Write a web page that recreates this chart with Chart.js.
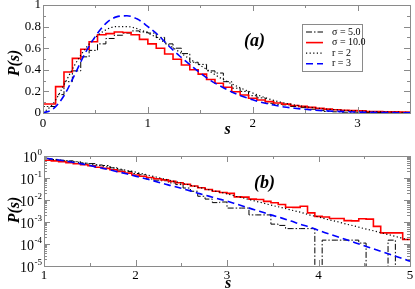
<!DOCTYPE html>
<html>
<head>
<meta charset="utf-8">
<title>P(s)</title>
<script src="https://cdn.jsdelivr.net/npm/chart.js@4.4.1/dist/chart.umd.min.js"></script>
<style>
	html, body { margin: 0; padding: 0; background: #fff; }
	#panels { position: relative; width: 415px; height: 289px; overflow: hidden; }
	#panelA { position: absolute; left: 0; top: 0; }
	#panelB { position: absolute; left: 0; top: 145px; }
</style>
</head>
<body>
<div id="panels">
	<canvas id="panelA" width="415" height="145"></canvas>
	<canvas id="panelB" width="415" height="144"></canvas>
</div>
<script>
// s values of the two smooth curves
var sGrid = [0, 0.1, 0.2, 0.3, 0.4, 0.5, 0.6, 0.7, 0.8, 0.9,
	1, 1.1, 1.2, 1.3, 1.4, 1.5, 1.6, 1.7, 1.8, 1.9,
	2, 2.1, 2.2, 2.3, 2.4, 2.5, 2.6, 2.7, 2.8, 2.9,
	3, 3.1, 3.2, 3.3, 3.4, 3.5, 3.6, 3.7, 3.8, 3.9,
	4, 4.1, 4.2, 4.3, 4.4, 4.5, 4.6, 4.7, 4.8, 4.9, 5];

// r = 2 (dotted)
var pR2 = [0, 0.09, 0.26, 0.44, 0.59, 0.70, 0.77, 0.80, 0.80, 0.78,
	0.74, 0.69, 0.63, 0.565, 0.50, 0.44, 0.38, 0.32, 0.27, 0.225,
	0.185, 0.148, 0.117, 0.093, 0.074, 0.059, 0.047, 0.037, 0.0295, 0.024,
	0.019, 0.0148, 0.0117, 0.0091, 0.0072, 0.0056, 0.0045, 0.0035, 0.0028, 0.0021,
	0.0017, 0.0013, 0.00105, 0.00081, 0.00065, 0.0005, 0.0004, 0.00031, 0.000245, 0.00019,
	0.00015];

// r = 3 (blue dashed)
var pR3 = [0, 0.04, 0.16, 0.35, 0.55, 0.71, 0.83, 0.89, 0.90, 0.87,
	0.80, 0.72, 0.62, 0.53, 0.45, 0.37, 0.30, 0.245, 0.195, 0.155,
	0.122, 0.095, 0.074, 0.056, 0.044, 0.034, 0.026, 0.0195, 0.015, 0.0115,
	0.0089, 0.0066, 0.0049, 0.0036, 0.0027, 0.0020, 0.0015, 0.0011, 0.00079, 0.00059,
	0.00042, 0.0003, 0.00022, 0.00016, 0.000115, 0.000083, 0.00006, 0.000044, 0.000032, 0.000023,
	0.0000166];

// histogram bins (centres), width 0.08
var binWidth = 0.08;
var binCenters = [0, 0.08, 0.16, 0.24, 0.32, 0.4, 0.48, 0.56, 0.64, 0.72,
	0.8, 0.88, 0.96, 1.04, 1.12, 1.2, 1.28, 1.36, 1.44, 1.52,
	1.6, 1.68, 1.76, 1.84, 1.92, 2, 2.08, 2.16, 2.24, 2.32,
	2.4, 2.48, 2.56, 2.64, 2.72, 2.8, 2.88, 2.96, 3.04, 3.12,
	3.2, 3.28, 3.36, 3.44, 3.52, 3.6, 3.68, 3.76, 3.84, 3.92,
	4, 4.08, 4.16, 4.24, 4.32, 4.4, 4.48, 4.56, 4.64, 4.72,
	4.8, 4.88, 4.96];

// sigma = 10.0 (red)
var hist10 = [0.083, 0.083, 0.244, 0.38, 0.506, 0.59, 0.66, 0.725, 0.735, 0.75,
	0.745, 0.725, 0.682, 0.64, 0.60, 0.546, 0.497, 0.444, 0.40, 0.36,
	0.31, 0.275, 0.238, 0.197, 0.167, 0.136, 0.12, 0.105, 0.093, 0.082,
	0.07, 0.061, 0.052, 0.043, 0.036, 0.03, 0.025, 0.022, 0.02, 0.0138,
	0.0135, 0.011, 0.0105, 0.0087, 0.0075, 0.0062, 0.0047, 0.0046, 0.0052, 0.0026,
	0.0018, 0.0017, 0.00145, 0.00145, 0.00115, 0.00112, 0.0014, 0.00135, 0.00063, 0.00032,
	0.00032, 0.00032, 0.00016];

// sigma = 5.0 (black dash-dot)
var hist5 = [0.06, 0.06, 0.17, 0.29, 0.39, 0.52, 0.58, 0.64, 0.69, 0.72,
	0.74, 0.76, 0.75, 0.74, 0.70, 0.64, 0.60, 0.55, 0.47, 0.45,
	0.39, 0.37, 0.29, 0.23, 0.20, 0.16, 0.14, 0.09, 0.08, 0.075,
	0.06, 0.05, 0.035, 0.025, 0.0148, 0.011, 0.0076, 0.0081, 0.0043, 0.0043,
	0.0043, 0.0021, 0.0021, 0.0021, 0.0008, 0.0007, 0.0005, 0.0005, 0.0005, 0.0005,
	0, 0.00015, 0.00015, 0.00015, 0.00015, 0.00015, 0.00011, 0, 0, 0,
	0.00015, 0, 0];

// tick labels
var aXTicks = [0, 1, 2, 3];
var aYTicks = [0, 0.2, 0.4, 0.6, 0.8, 1];
var bXTicks = [1, 2, 3, 4, 5];
var bYExp = [0, -1, -2, -3, -4, -5];

var serif = "'Liberation Serif', 'Times New Roman', Times, serif";

function stepData(values, floor) {
	var pts = [];
	for (var i = 0; i < binCenters.length; i++) {
		var v = values[i];
		if (floor !== undefined && v <= 0) v = floor;
		pts.push({x: binCenters[i] - binWidth / 2, y: v});
	}
	var n = binCenters.length - 1;
	pts.push({x: binCenters[n] + binWidth / 2, y: pts[n].y});
	return pts;
}

function curveData(values, floor) {
	var pts = [];
	for (var i = 0; i < sGrid.length; i++) {
		var v = values[i];
		if (floor !== undefined && v <= 0) v = floor;
		pts.push({x: sGrid[i], y: v});
	}
	return pts;
}

function buildDatasets(floor) {
	return [
		{label: 'σ = 5.0', data: stepData(hist5, floor), stepped: true,
			borderColor: '#000000', borderWidth: 1, borderDash: [6, 2, 1.5, 2], order: 4},
		{label: 'σ = 10.0', data: stepData(hist10, floor), stepped: true,
			borderColor: '#ff0000', borderWidth: 1.6, order: 3},
		{label: 'r = 2', data: curveData(pR2, floor), cubicInterpolationMode: 'monotone',
			borderColor: '#000000', borderWidth: 1.2, borderDash: [1.2, 2.4], order: 2},
		{label: 'r = 3', data: curveData(pR3, floor), cubicInterpolationMode: 'monotone',
			borderColor: '#0000ff', borderWidth: 1.6, borderDash: [7, 4], order: 1}
	];
}

// frame, inner ticks, titles, legend
var panelDecor = {
	id: 'panelDecor',
	afterDraw: function(chart, args, o) {
		var ctx = chart.ctx;
		var a = chart.chartArea;
		var xs = chart.scales.x, ys = chart.scales.y;
		ctx.save();
		ctx.strokeStyle = '#8a8a8a';
		ctx.lineWidth = 1;
		ctx.setLineDash([]);
		ctx.beginPath();
		function xTick(v, len) {
			var px = Math.round(xs.getPixelForValue(v)) + 0.5;
			ctx.moveTo(px, a.bottom); ctx.lineTo(px, a.bottom - len);
			ctx.moveTo(px, a.top); ctx.lineTo(px, a.top + len);
		}
		function yTick(v, len) {
			var py = Math.round(ys.getPixelForValue(v)) + 0.5;
			ctx.moveTo(a.left, py); ctx.lineTo(a.left + len, py);
			ctx.moveTo(a.right, py); ctx.lineTo(a.right - len, py);
		}
		o.xMajor.forEach(function(v) { xTick(v, 6); });
		o.xMinor.forEach(function(v) { xTick(v, 3); });
		o.yMajor.forEach(function(v) { yTick(v, 6); });
		o.yMinor.forEach(function(v) { yTick(v, 3); });
		ctx.stroke();
		ctx.strokeRect(a.left + 0.5, a.top + 0.5, a.right - a.left, a.bottom - a.top);

		ctx.fillStyle = '#000';
		// 10^n labels on the log axis
		if (o.logLabels) {
			o.logLabels.forEach(function(e) {
				var py = ys.getPixelForValue(Math.pow(10, e));
				var sup = e === 0 ? '0' : '-' + (-e);
				ctx.textAlign = 'right';
				ctx.textBaseline = 'alphabetic';
				ctx.font = '9px ' + serif;
				var w = ctx.measureText(sup).width;
				ctx.fillText(sup, a.left - 2, py - 1);
				ctx.font = '14px ' + serif;
				ctx.fillText('10', a.left - 2.5 - w, py + 6);
			});
		}

		ctx.font = 'italic bold 16px ' + serif;
		ctx.textAlign = 'center';
		ctx.textBaseline = 'middle';
		ctx.fillText('s', (a.left + a.right) / 2 + 1, o.xTitleY);
		ctx.save();
		ctx.translate(15, o.yTitleY);
		ctx.rotate(-Math.PI / 2);
		ctx.fillText('P(s)', 0, 0);
		ctx.restore();

		ctx.font = 'italic bold 18px ' + serif;
		ctx.textAlign = 'left';
		ctx.fillText(o.tag.text, o.tag.x, o.tag.y);

		if (o.legend) {
			var L = o.legend;
			ctx.strokeStyle = '#8a8a8a';
			ctx.lineWidth = 1;
			ctx.strokeRect(L.x + 0.5, L.y + 0.5, L.w, L.h);
			chart.data.datasets.forEach(function(ds, i) {
				var yy = L.y + L.first + i * L.row;
				ctx.save();
				ctx.strokeStyle = ds.borderColor;
				ctx.lineWidth = ds.borderWidth;
				ctx.setLineDash(ds.borderDash || []);
				ctx.beginPath();
				ctx.moveTo(L.x + 4, yy);
				ctx.lineTo(L.x + 21, yy);
				ctx.stroke();
				ctx.restore();
				ctx.fillStyle = '#000';
				ctx.font = '10px ' + serif;
				ctx.textAlign = 'left';
				ctx.textBaseline = 'middle';
				ctx.fillText(ds.label, L.x + 30, yy);
			});
		}
		ctx.restore();
	}
};

function fixedAxis(size, isX) {
	return function(s) {
		if (isX) s.height = size; else s.width = size;
		s.paddingLeft = 0; s.paddingRight = 0;
		s.paddingTop = 0; s.paddingBottom = 0;
	};
}

function range(from, to, step) {
	var out = [];
	for (var v = from; v <= to + 1e-9; v += step) out.push(+v.toFixed(6));
	return out;
}

function plainLabel(v) {
	return String(+Number(v).toFixed(3));
}

// minor ticks of the log axis
var logMinor = [];
for (var e = -5; e < 0; e++) {
	for (var m = 2; m <= 9; m++) logMinor.push(m * Math.pow(10, e));
}

var tickGrid = {display: false, drawTicks: false};

// panel (a): linear
new Chart(document.getElementById('panelA'), {
	type: 'line',
	data: {datasets: buildDatasets()},
	options: {
		responsive: false,
		animation: false,
		events: [],
		elements: {point: {radius: 0}},
		layout: {padding: {left: 0, right: 5, top: 5, bottom: 0}},
		plugins: {
			legend: {display: false},
			tooltip: {enabled: false},
			panelDecor: {
				xMajor: aXTicks, xMinor: [0.5, 1.5, 2.5],
				yMajor: aYTicks, yMinor: range(0.1, 0.9, 0.2),
				xTitleY: 130, yTitleY: 63,
				tag: {text: '(a)', x: 244, y: 41},
				legend: {x: 302, y: 24, w: 60, h: 47, first: 8, row: 10.6}
			}
		},
		scales: {
			x: {
				type: 'linear', min: 0, max: 3.5,
				grid: tickGrid, border: {display: false},
				afterBuildTicks: function(s) { s.ticks = aXTicks.map(function(v) { return {value: v}; }); },
				ticks: {padding: 3, color: '#000', font: {family: serif, size: 13}, callback: plainLabel},
				afterFit: fixedAxis(32, true)
			},
			y: {
				type: 'linear', min: 0, max: 1,
				grid: tickGrid, border: {display: false},
				afterBuildTicks: function(s) { s.ticks = aYTicks.map(function(v) { return {value: v}; }); },
				ticks: {padding: 2, color: '#000', font: {family: serif, size: 13}, callback: plainLabel},
				afterFit: fixedAxis(43, false)
			}
		}
	},
	plugins: [panelDecor]
});

// panel (b): log
new Chart(document.getElementById('panelB'), {
	type: 'line',
	data: {datasets: buildDatasets(1e-7)},
	options: {
		responsive: false,
		animation: false,
		events: [],
		elements: {point: {radius: 0}},
		layout: {padding: {left: 0, right: 5, top: 11, bottom: 0}},
		plugins: {
			legend: {display: false},
			tooltip: {enabled: false},
			panelDecor: {
				xMajor: bXTicks, xMinor: [1.5, 2.5, 3.5, 4.5],
				yMajor: bYExp.map(function(e) { return Math.pow(10, e); }), yMinor: logMinor,
				logLabels: bYExp,
				xTitleY: 139, yTitleY: 65,
				tag: {text: '(b)', x: 254, y: 38}
			}
		},
		scales: {
			x: {
				type: 'linear', min: 1, max: 5,
				grid: tickGrid, border: {display: false},
				afterBuildTicks: function(s) { s.ticks = bXTicks.map(function(v) { return {value: v}; }); },
				ticks: {padding: 2, color: '#000', font: {family: serif, size: 13}, callback: plainLabel},
				afterFit: fixedAxis(23, true)
			},
			y: {
				type: 'logarithmic', min: 1e-5, max: 1,
				grid: tickGrid, border: {display: false},
				ticks: {display: false},
				afterFit: fixedAxis(44, false)
			}
		}
	},
	plugins: [panelDecor]
});
</script>
</body>
</html>
